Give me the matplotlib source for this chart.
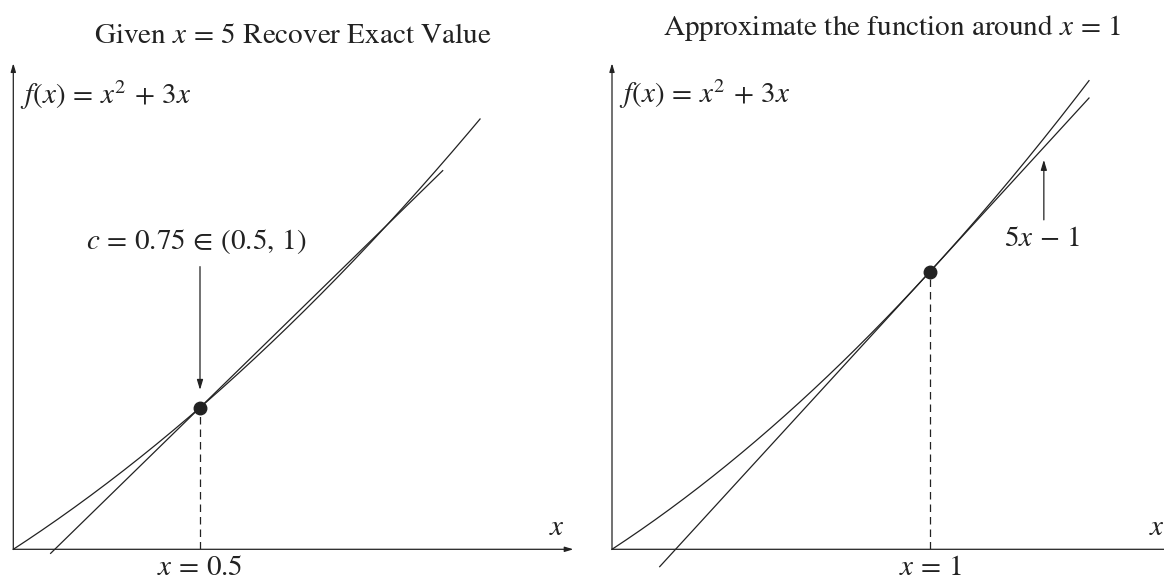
import numpy as np
import matplotlib
matplotlib.use("Agg")
import matplotlib.pyplot as plt

plt.rcParams['font.family'] = 'STIXGeneral'
plt.rcParams['mathtext.fontset'] = 'stix'

# left panel: curve, secant through x=0.5 and x=1
left_curve_x = [0.0, 1.25]
left_line_x = [0.1, 1.15]
left_slope, left_icpt = 4.5, -0.5
left_point = 0.5
left_c = 0.75

# right panel: tangent at x=1
right_curve_x = [0.0, 1.5]
right_line_x = [0.15, 1.5]
right_slope, right_icpt = 5.0, -1.0
right_point = 1.0


def f(x):
    return x ** 2 + 3 * x


W, H = 1164, 579
fig = plt.figure(figsize=(W / 100, H / 100), dpi=100)

ink = '#222222'
lw = 0.9
fs = 21

# pixel geometry
axL = fig.add_axes([13.3 / W, (H - 549.3) / H, 373.4 * 1.5 / W, 486 / H])
axR = fig.add_axes([612 / W, (H - 549.3) / H, 318 * 1.77 / W, 486 / H])
axL.set_xlim(0, 1.5); axL.set_ylim(0, 6)
axR.set_xlim(0, 1.77); axR.set_ylim(0, 7)


def setup(ax, xmax, ymax):
    ax.axis('off')
    arrow = dict(arrowstyle='-|>,head_length=0.5,head_width=0.15', color=ink, lw=lw,
                 shrinkA=0, shrinkB=0)
    ax.annotate('', xy=(xmax, 0), xytext=(0, 0), arrowprops=arrow, annotation_clip=False)
    ax.annotate('', xy=(0, ymax), xytext=(0, 0), arrowprops=arrow, annotation_clip=False)


setup(axL, 1.5, 6)
setup(axR, 1.77, 7)

fx_label = r'$f(x)\,=\,x^2\,+\,3x$'

# left
xs = np.linspace(*left_curve_x, 200)
axL.plot(xs, f(xs), color=ink, lw=lw, clip_on=False)
lx = np.array(left_line_x)
axL.plot(lx, left_slope * lx + left_icpt, color=ink, lw=lw, clip_on=False)
axL.plot([left_point, left_point], [0, f(left_point)], color=ink, lw=lw, ls=(0, (6, 4)))
axL.plot(left_point, f(left_point), 'o', color=ink, ms=9)
axL.annotate('', xy=(left_point, 1.967), xytext=(left_point, 3.49),
             arrowprops=dict(arrowstyle='-|>,head_length=0.6,head_width=0.18', color=ink,
                             lw=lw, shrinkA=0, shrinkB=0))
axL.text(0.489, 3.80, r'$c\,=\,0.75\,\in\,(0.5,\,1)$', fontsize=fs, ha='center', va='center',
         color=ink)
axL.text(0.018, 5.61, fx_label, fontsize=fs, ha='left', va='center', color=ink)
axL.text(left_point, -0.24, r'$x\,=\,0.5$', fontsize=fs, ha='center', va='center', color=ink)
axL.text(1.456, 0.26, r'$x$', fontsize=fs, ha='center', va='center', color=ink)
fig.text(293 / W, 1 - 36 / H, r'Given $x\,=\,5$ Recover Exact Value', fontsize=fs,
         ha='center', va='center', color=ink)

# right
xs = np.linspace(*right_curve_x, 200)
axR.plot(xs, f(xs), color=ink, lw=lw, clip_on=False)
rx = np.array(right_line_x)
axR.plot(rx, right_slope * rx + right_icpt, color=ink, lw=lw, clip_on=False)
axR.plot([right_point, right_point], [0, f(right_point)], color=ink, lw=lw, ls=(0, (6, 4)))
axR.plot(right_point, f(right_point), 'o', color=ink, ms=9)
axR.annotate('', xy=(1.358, 5.61), xytext=(1.358, 4.745),
             arrowprops=dict(arrowstyle='-|>,head_length=0.6,head_width=0.18', color=ink,
                             lw=lw, shrinkA=0, shrinkB=0))
axR.text(1.352, 4.457, r'$5x\,-\,1$', fontsize=fs, ha='center', va='center', color=ink)
axR.text(0.022, 6.55, fx_label, fontsize=fs, ha='left', va='center', color=ink)
axR.text(right_point, -0.28, r'$x\,=\,1$', fontsize=fs, ha='center', va='center', color=ink)
axR.text(1.714, 0.30, r'$x$', fontsize=fs, ha='center', va='center', color=ink)
fig.text(892 / W, 1 - 28 / H, r'Approximate the function around $x\,=\,1$', fontsize=fs,
         ha='center', va='center', color=ink)

fig.savefig('out.png', dpi=100)
